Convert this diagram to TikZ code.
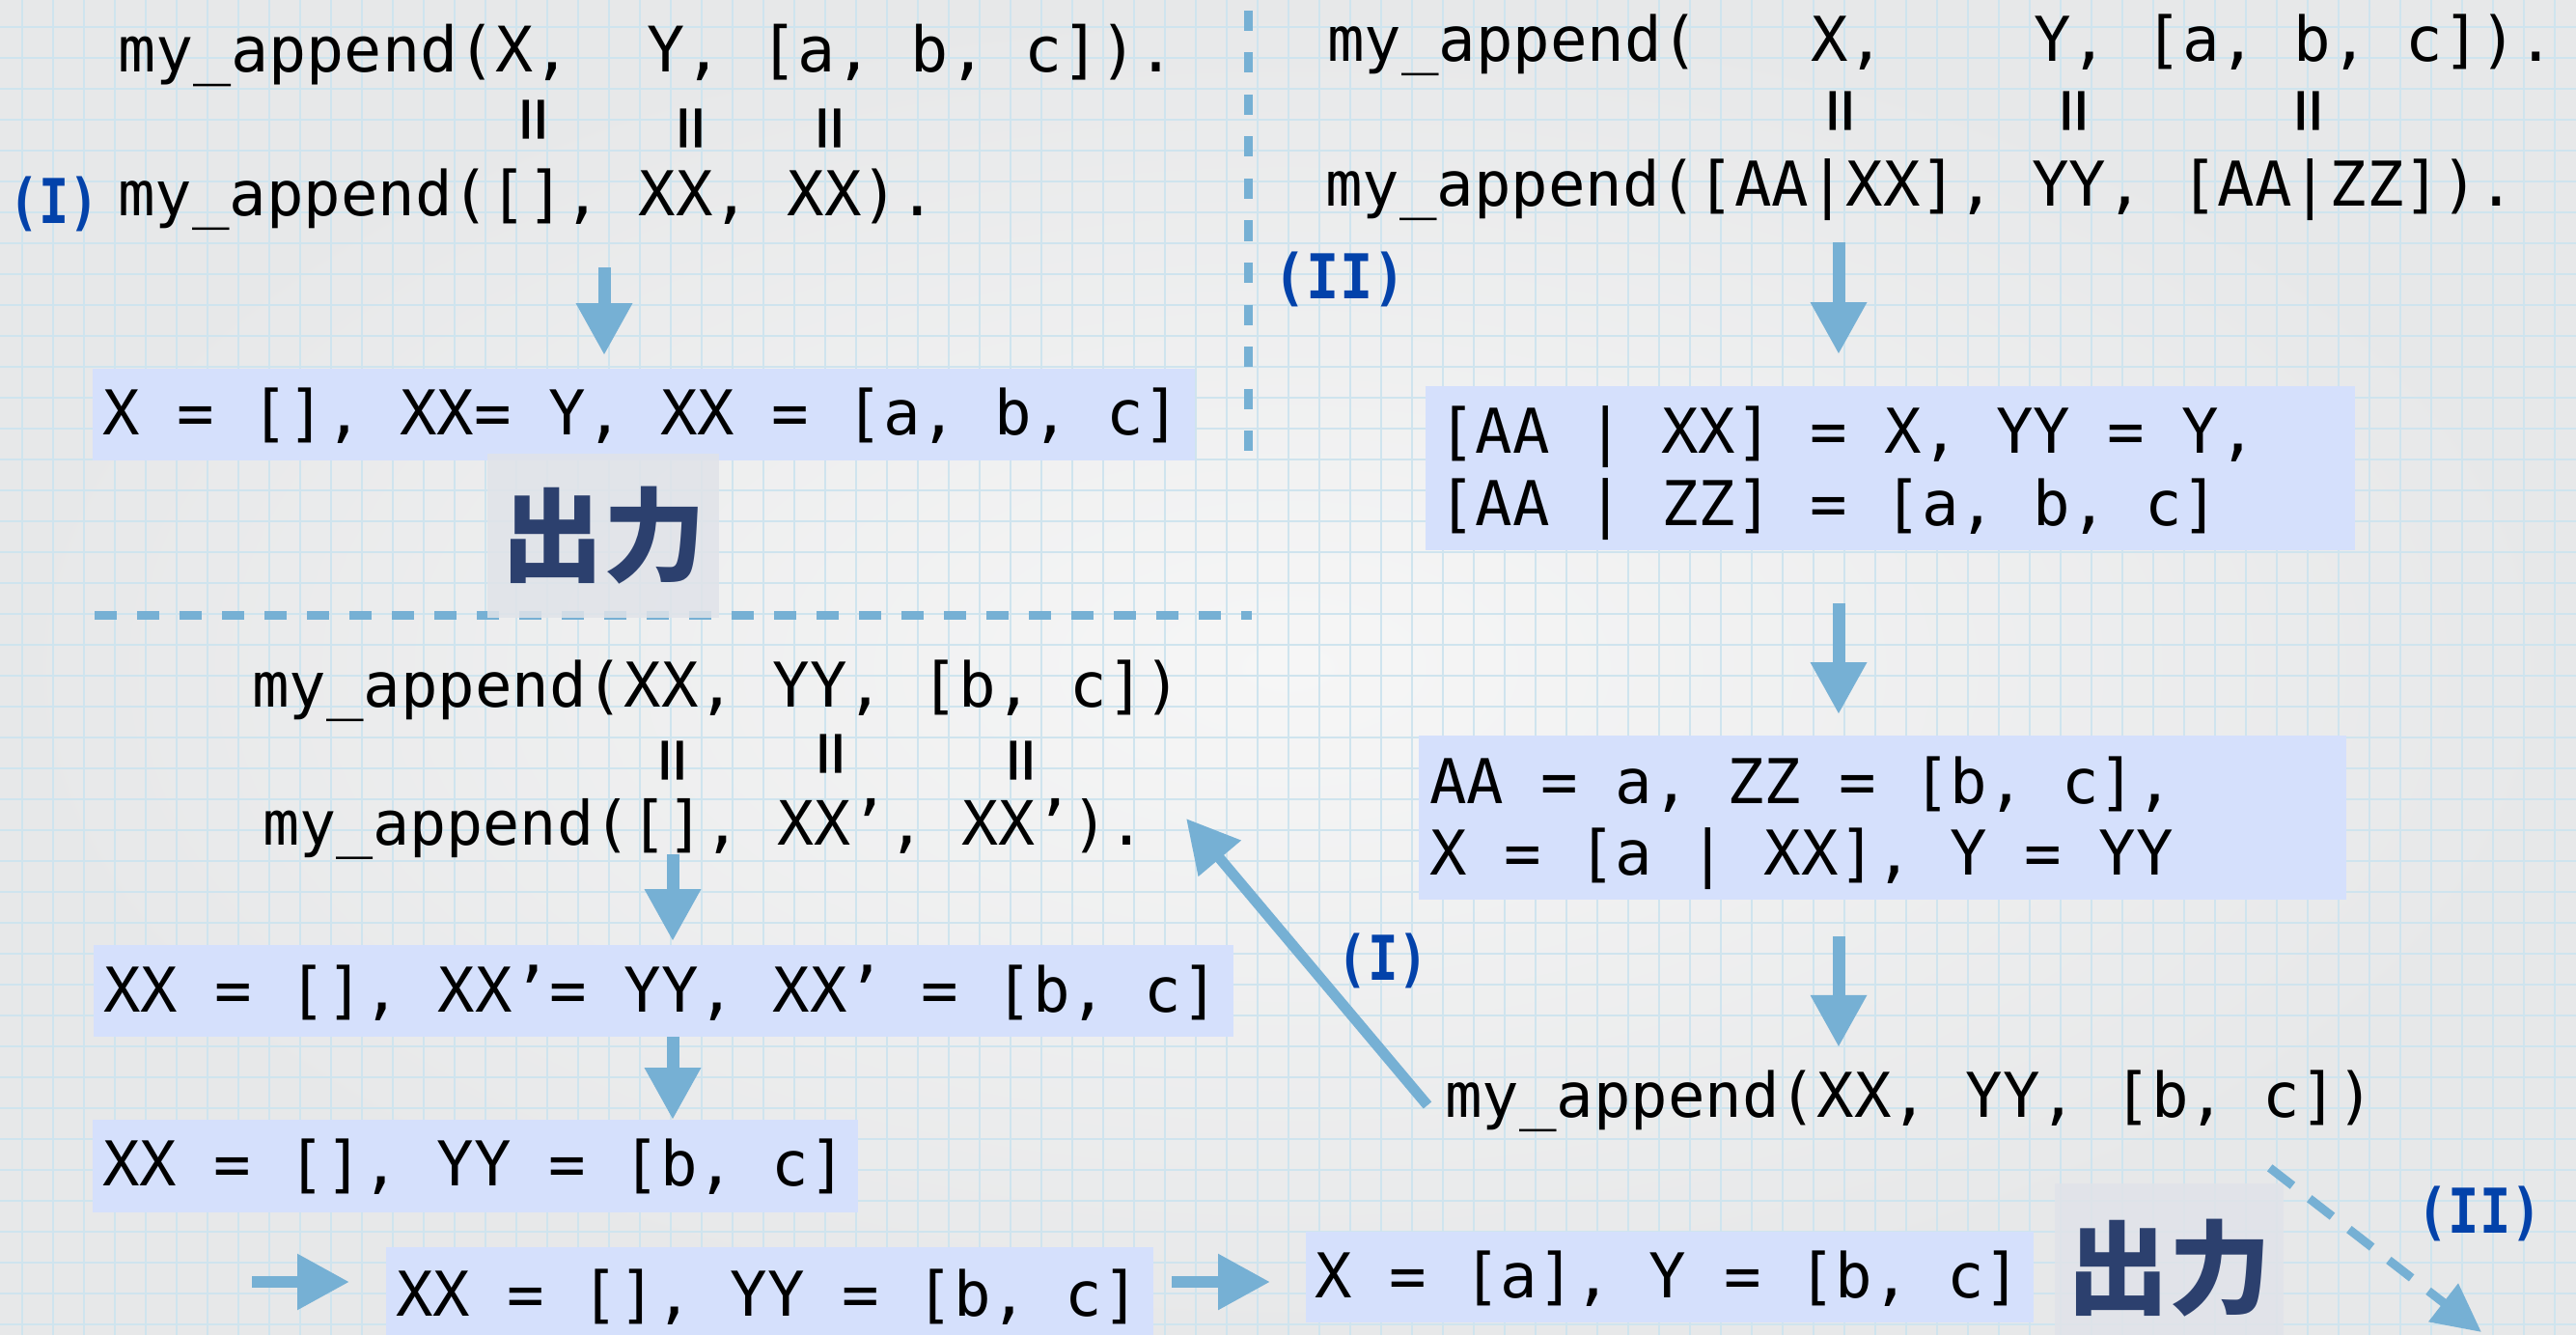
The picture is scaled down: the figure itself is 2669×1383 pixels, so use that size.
\documentclass[tikz,border=0pt]{standalone}
\usepackage{fontspec}
\usepackage{graphicx}
\usetikzlibrary{arrows.meta,calc}
\newfontfamily\monof{DejaVu Sans Mono}
\newfontfamily\cjkf{Noto Sans CJK JP}
\newcommand\mfs[1]{\monof\fontsize{#1pt}{#1pt}\selectfont}
\newcommand\lbl[2]{\scalebox{#1}[1]{#2}}
\definecolor{bgin}{RGB}{246,246,246}
\definecolor{bgout}{RGB}{231,232,233}
\definecolor{gridc}{RGB}{207,228,238}
\definecolor{boxc}{RGB}{213,224,252}
\definecolor{grayc}{RGB}{224,227,233}
\definecolor{arrc}{RGB}{118,176,212}
\definecolor{labc}{RGB}{3,66,170}
\definecolor{outc}{RGB}{44,64,110}
\begin{document}
\begin{tikzpicture}[x=1pt,y=-1pt,
 txt/.style={anchor=base west, inner sep=0pt, font=\mfs{64}, text height=47pt, text depth=0pt},
 box/.style={fill=boxc, inner sep=0pt, anchor=north west},
 outbox/.style={fill=grayc, fill opacity=0.85, text opacity=1, text=outc, inner sep=0pt, font=\cjkf\bfseries\fontsize{106pt}{106pt}\selectfont},
 eqv/.style={rotate=90, inner sep=0pt, font=\mfs{78}, text height=48pt, text depth=0pt},
 lab/.style={anchor=base, inner sep=0pt, text=labc, font=\monof\bfseries\fontsize{64pt}{64pt}\selectfont},
 arr/.style={draw=arrc, line width=13pt, -{Triangle[width=55pt,length=54pt]}},
 sep/.style={draw=arrc, line width=9pt},
]
\useasboundingbox (0,0) rectangle (2669,1383);
\clip (0,0) rectangle (2669,1383);
\shade[inner color=bgin, outer color=bgout] (0,0) rectangle (2669,1383);
\foreach \i in {0,...,82} \draw[gridc, line width=2pt] ({23+32*\i},0) -- ({23+32*\i},1383);
\foreach \j in {0,...,42} \draw[gridc, line width=2pt] (0,{28+32*\j}) -- (2669,{28+32*\j});

% separators
\draw[sep, dash pattern=on 21pt off 22.5pt] (1293,11) -- (1293,483);
\draw[sep, dash pattern=on 23pt off 21pt] (98,637) -- (1297,637);

% boxes
\node[box, minimum width=1142pt, minimum height=95pt] (b1) at (96,382) {};
\node[box, minimum width=963pt, minimum height=170pt] (b2) at (1477,400) {};
\node[box, minimum width=961pt, minimum height=170pt] (b3) at (1470,762) {};
\node[box, minimum width=1181pt, minimum height=95pt] (b4) at (97,979) {};
\node[box, minimum width=793pt, minimum height=96pt] (b5) at (96,1160) {};
\node[box, minimum width=795pt, minimum height=100pt] (b6) at (400,1292) {};
\node[box, minimum width=754pt, minimum height=94pt] (b7) at (1353,1276) {};

% output boxes
\node[outbox, minimum width=240pt, minimum height=170pt] (g1) at (625,555) {出力};
\node[outbox, minimum width=237pt, minimum height=176pt] (g2) at (2247,1314) {出力};

% texts left top
\node[txt, font=\mfs{65}] (tl1) at (122,75) {my\_append(X,~~Y, [a, b, c]).};
\node[txt] (tl2) at (122,224) {my\_append([], XX, XX).};
\node[txt] (t1) at (106,450) {X = [], XX= Y, XX = [a, b, c]};
\node[eqv] (e1) at (553,124) {=};
\node[eqv] (e2) at (716,133) {=};
\node[eqv] (e3) at (860,133) {=};

% texts right top
\node[txt] (tr1) at (1375,64) {my\_append(~~~X,~~~~Y, [a, b, c]).};
\node[txt] (tr2) at (1373,214) {my\_append([AA|XX], YY, [AA|ZZ]).};
\node[eqv] (e4) at (1907,115) {=};
\node[eqv] (e5) at (2149,115) {=};
\node[eqv] (e6) at (2392,115) {=};
\node[txt] (t2a) at (1490,469) {[AA | XX] = X, YY = Y,};
\node[txt] (t2b) at (1490,544) {[AA | ZZ] = [a, b, c]};
\node[txt] (t3a) at (1481,832) {AA = a, ZZ = [b, c],};
\node[txt] (t3b) at (1481,906) {X = [a | XX], Y = YY};
\node[txt] (tr3) at (1497,1157) {my\_append(XX, YY, [b, c])};
\node[txt] (t7) at (1362,1344) {X = [a], Y = [b, c]};

% texts left bottom
\node[txt] (bl1) at (261,732) {my\_append(XX, YY, [b, c])};
\node[txt, font=\mfs{63.3}] (bl2) at (272,875) {my\_append([], XX’, XX’).};
\node[eqv] (e7) at (697,788) {=};
\node[eqv] (e8) at (861,781) {=};
\node[eqv] (e9) at (1058,788) {=};
\node[txt] (t4) at (107,1048) {XX = [], XX’= YY, XX’ = [b, c]};
\node[txt] (t5) at (106,1228) {XX = [], YY = [b, c]};
\node[txt] (t6) at (410,1363) {XX = [], YY = [b, c]};

% arrows
\coordinate (xa) at (626,0);
\coordinate (xb) at (1905,0);
\coordinate (xc) at (697,0);
\coordinate (s7) at (261,1328);
\coordinate (e10) at (2571,1380);
\draw[arr, shorten >=14pt] ($(tl2.base -| xa)+(0,53)$) -- (b1.north -| xa);
\draw[arr, shorten >=33pt] ($(tr2.base -| xb)+(0,37)$) -- (b2.north -| xb);
\draw[arr, shorten >=22pt] ($(b2.south -| xb)+(0,55)$) -- (b3.north -| xb);
\draw[arr, shorten >=25pt] ($(b3.south -| xb)+(0,38)$) -- (tr3.north -| xb);
\draw[arr, shorten >=4pt] ($(bl2.base -| xc)+(0,10)$) -- (b4.north -| xc);
\draw[arr] (b4.south -| xc) -- (b5.north -| xc);
\draw[arr, line width=12pt, shorten >=38pt] (s7) -- (s7 -| b6.west);
\draw[arr, line width=12pt, shorten <=19pt, shorten >=37pt] (s7 -| b6.east) -- (s7 -| b7.west);
\draw[arr, line width=11pt] ($(tr3.base west)+(-18,-12)$) -- ($(bl2.base east)+(42,-27)$);
\draw[sep, dash pattern=on 30pt off 22pt, -{Triangle[width=48pt,length=50pt]}] ($(g2.north east)+(-14,-16)$) -- (e10);

% labels
\node[lab] (l1) at (56,232) {\lbl{0.81}{(I)}};
\node[lab] (l2) at (1388,309) {\lbl{0.89}{(II)}};
\node[lab] (l3) at (1433,1015) {\lbl{0.82}{(I)}};
\node[lab] (l4) at (2569,1277) {\lbl{0.84}{(II)}};
\end{tikzpicture}
\end{document}
